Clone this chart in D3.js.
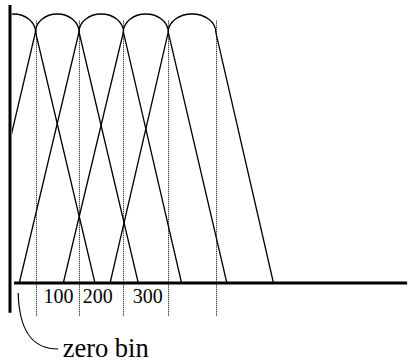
<!DOCTYPE html>
<html>
<head>
<meta charset="utf-8">
<script src="https://cdn.jsdelivr.net/npm/d3@7"></script>
<style>
  html, body { margin: 0; padding: 0; background: #fff; }
  svg { display: block; }
</style>
</head>
<body>
<svg id="chart" width="409" height="364"></svg>
<script>
// Overlapping filter bank: each band has a rounded top spanning two band edges
// and straight skirts that run down to the frequency axis.
const bandEdges     = [-0.5, 0.5, 1.48, 2.48, 3.49, 4.56];   // band k spans edges[k]..edges[k+1]
const leftFeet      = [-1.83, -0.83, 0.135, 1.126, 2.18];    // where each rising skirt meets the axis
const rightFeet     = [1.84, 2.815, 3.79, 4.81, 5.86];       // where each falling skirt meets the axis
const peakLevel     = 1.0;
const shoulderLevel = 0.933;
const dividers      = [0.5, 1.48, 2.48, 3.49, 4.56];         // dotted band boundaries
const tickLabels    = ["100", "200", "300"];
const tickPositions = [1.02, 1.90, 3.03];
const calloutText   = "zero bin";

const W = 409, H = 364;
const svg = d3.select("#chart");
const serif = '"Liberation Serif", "Times New Roman", Times, serif';

const x = d3.scaleLinear().domain([0, 9]).range([13.3, 412.9]);
const y = d3.scaleLinear().domain([0, 1]).range([283, 14]);

// Clip so the zero bin and the first skirt stop at the vertical axis
svg.append("defs").append("clipPath").attr("id", "plotClip")
  .append("rect").attr("x", x(-0.03)).attr("y", 0).attr("width", W).attr("height", H);

// Dotted band boundaries
svg.append("g").selectAll("line").data(dividers).join("line")
  .attr("x1", d => Math.round(x(d)) + 0.5).attr("x2", d => Math.round(x(d)) + 0.5)
  .attr("y1", y(0.975)).attr("y2", y(-0.123))
  .attr("stroke", "#000").attr("stroke-width", 1)
  .attr("stroke-dasharray", "1,1");

// Filters
const filters = d3.range(bandEdges.length - 1).map(k => ({
  left: bandEdges[k], right: bandEdges[k + 1],
  footL: leftFeet[k], footR: rightFeet[k]
}));

function filterPath(f) {
  const rx = (x(f.right) - x(f.left)) / 2;
  const ry = y(shoulderLevel) - y(peakLevel);
  return `M${x(f.footL)},${y(0)}` +
         `L${x(f.left)},${y(shoulderLevel)}` +
         `A${rx},${ry} 0 0 1 ${x(f.right)},${y(shoulderLevel)}` +
         `L${x(f.footR)},${y(0)}`;
}

svg.append("g").attr("clip-path", "url(#plotClip)")
  .selectAll("path").data(filters).join("path")
  .attr("d", filterPath)
  .attr("fill", "none")
  .attr("stroke", "#000")
  .attr("stroke-width", 1.3)
  .attr("stroke-linejoin", "round");

// Axes
svg.append("line")
  .attr("x1", x(0) - 3.3).attr("x2", x(0) - 3.3)
  .attr("y1", y(1.033)).attr("y2", y(-0.111))
  .attr("stroke", "#000").attr("stroke-width", 3);

svg.append("line")
  .attr("x1", x(0.016)).attr("x2", x(8.87))
  .attr("y1", y(0)).attr("y2", y(0))
  .attr("stroke", "#000").attr("stroke-width", 3);

// Frequency labels
svg.append("g").selectAll("text").data(tickLabels).join("text")
  .attr("x", (d, i) => x(tickPositions[i]))
  .attr("y", y(0) + 19.7)
  .attr("text-anchor", "middle")
  .style("font-family", serif)
  .style("font-size", "20px")
  .attr("fill", "#000")
  .text(d => d);

// Callout for the zero bin
const sx = x(0.11), sy = y(0) + 10;
const ex = x(1.01), ey = y(0) + 66;
svg.append("path")
  .attr("d", `M${sx},${sy} C${sx + 1},${sy + 38} ${sx + 14},${ey} ${ex},${ey}`)
  .attr("fill", "none").attr("stroke", "#000").attr("stroke-width", 1.2);

svg.append("text")
  .attr("x", ex + 4.5).attr("y", ey + 8.3)
  .style("font-family", serif)
  .style("font-size", "26.5px")
  .attr("fill", "#000")
  .text(calloutText);
</script>
</body>
</html>
